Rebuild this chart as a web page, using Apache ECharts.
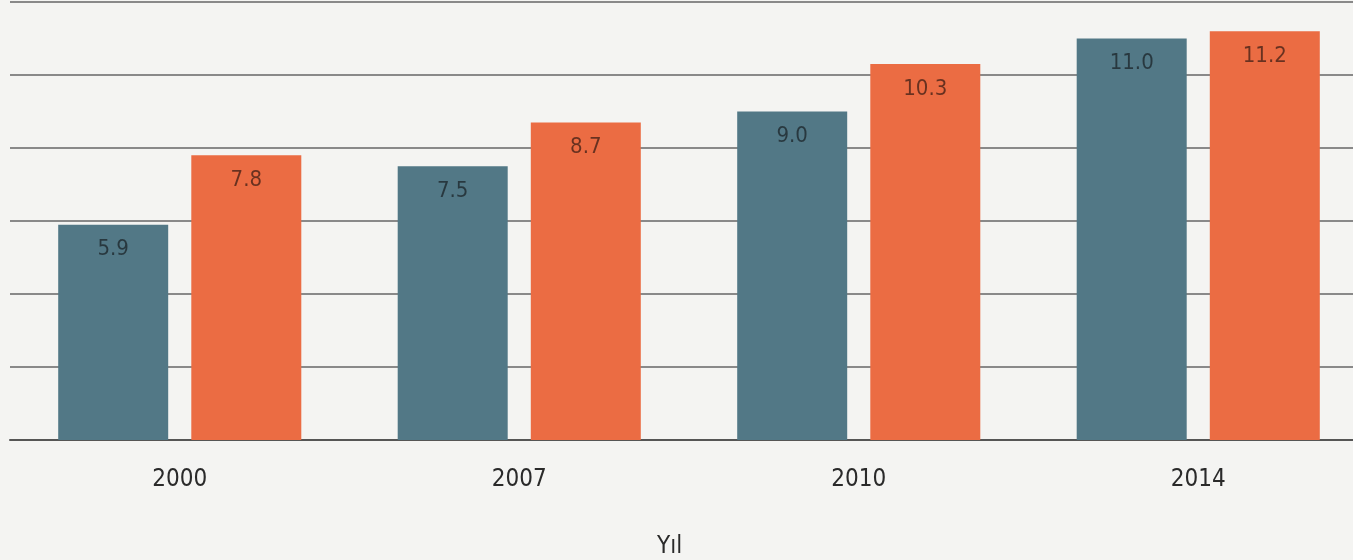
<!DOCTYPE html>
<html>
<head>
<meta charset="utf-8">
<script src="https://cdn.jsdelivr.net/npm/echarts@6/dist/echarts.min.js"></script>
<style>
  html, body { margin: 0; padding: 0; background: #f4f4f2; overflow: hidden; }
  #chart { width: 1368px; height: 560px; }
</style>
</head>
<body>
<div id="chart"></div>
<script>
// veriler
const years = ['2000', '2007', '2010', '2014']
const seriesA = [5.9, 7.5, 9.0, 11.0]
const seriesB = [7.8, 8.7, 10.3, 11.2]

const labelFont = '"DejaVu Sans Condensed", "Roboto", sans-serif'

const myChart = echarts.init(document.getElementById('chart'))
const option = {
  backgroundColor: '#f4f4f2',
  animation: false,
  title: {
    text: 'Yıl',
    left: 652,
    top: 530,
    textStyle: { fontSize: 24, fontWeight: 'normal', color: '#2a2a2a', fontFamily: labelFont }
  },
  grid: {
    left: 10,
    top: 2,
    right: 0,
    bottom: 120
  },
  xAxis: {
    type: 'category',
    data: years,
    axisTick: { show: false },
    axisLine: { lineStyle: { color: '#555', width: 2 } },
    axisLabel: {
      margin: 28,
      fontSize: 24,
      color: '#2a2a2a',
      fontFamily: labelFont
    }
  },
  yAxis: {
    type: 'value',
    min: 0,
    max: 12,
    interval: 2,
    axisLabel: { show: false },
    axisLine: { show: false },
    axisTick: { show: false },
    splitLine: { lineStyle: { color: '#666', width: 1.5 } }
  },
  series: [
    {
      name: 'A',
      type: 'bar',
      data: seriesA,
      barWidth: 110,
      barGap: '21%',
      itemStyle: { color: '#527886' },
      label: {
        show: true,
        position: 'insideTop',
        distance: 14,
        fontSize: 22,
        color: 'rgba(30,40,45,0.8)',
        fontFamily: labelFont,
        formatter: p => p.value.toFixed(1)
      }
    },
    {
      name: 'B',
      type: 'bar',
      data: seriesB,
      barWidth: 110,
      itemStyle: { color: '#eb6c43' },
      label: {
        show: true,
        position: 'insideTop',
        distance: 14,
        fontSize: 22,
        color: 'rgba(60,30,20,0.75)',
        fontFamily: labelFont,
        formatter: p => p.value.toFixed(1)
      }
    }
  ]
}
option && myChart.setOption(option)
</script>
</body>
</html>
